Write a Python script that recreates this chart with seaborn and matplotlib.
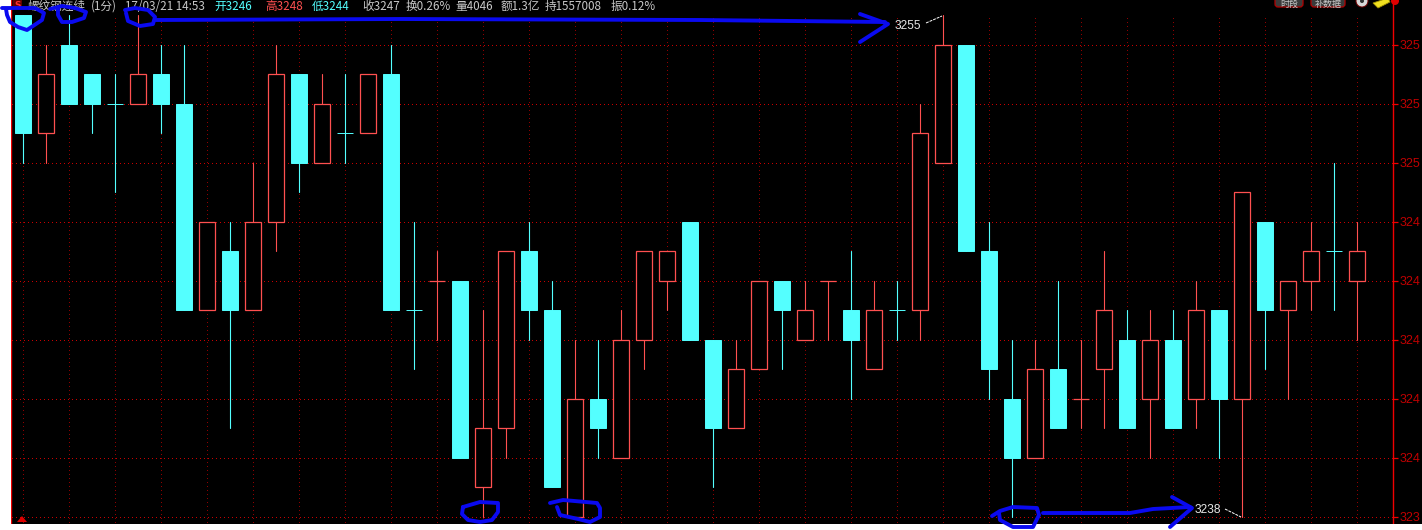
import pandas as pd
import matplotlib
matplotlib.use("Agg")
import matplotlib.pyplot as plt
from matplotlib.patches import Rectangle, FancyBboxPatch, Circle, Polygon
import seaborn as sns

opens = [3255,3251,3254,3253,3252,3252,3253,3252,3245,3247,3245,3248,3253,3250,3251,3251,3253,3245,3246,3246,
         3239,3241,3247,3245,3238,3242,3240,3244,3246,3248,3244,3241,3243,3246,3244,3246,3245,3243,3245,3245,
         3250,3254,3247,3242,3240,3243,3242,3243,3244,3242,3244,3242,3245,3242,3248,3245,3246,3247,3246]
closes = [3251,3253,3252,3252,3252,3253,3252,3245,3248,3245,3248,3253,3250,3252,3251,3253,3245,3245,3246,3240,
          3241,3247,3245,3239,3242,3241,3244,3247,3247,3244,3241,3243,3246,3245,3245,3246,3244,3245,3245,3251,
          3254,3247,3243,3240,3243,3241,3242,3245,3241,3244,3241,3245,3242,3249,3245,3246,3247,3247,3247]
highs = [3255,3254,3255,3253,3253,3255,3254,3254,3248,3248,3250,3254,3253,3253,3253,3253,3254,3248,3247,3246,
         3245,3247,3248,3246,3244,3244,3245,3247,3247,3248,3244,3244,3246,3246,3246,3246,3247,3246,3246,3252,
         3255,3254,3248,3244,3244,3246,3244,3247,3245,3245,3245,3246,3245,3249,3248,3246,3248,3250,3248]
lows = [3250,3250,3252,3251,3249,3252,3251,3245,3245,3241,3245,3247,3249,3250,3250,3251,3245,3243,3244,3240,
        3238,3240,3244,3239,3238,3240,3240,3243,3245,3244,3239,3241,3243,3243,3244,3244,3242,3243,3244,3244,
        3250,3247,3242,3238,3240,3241,3241,3241,3241,3240,3241,3241,3240,3238,3243,3242,3245,3245,3244]
rising = [0,1,0,0,0,1,0,0,1,0,1,1,0,1,0,1,0,0,1,0,
          1,1,0,0,1,0,1,1,1,0,0,1,1,0,1,1,0,1,0,1,
          1,0,0,0,1,0,1,1,0,1,0,1,0,1,0,1,1,0,1]
grid_prices = [3254,3252,3250,3248,3246,3244,3242,3240,3238]
price_labels = ["325","325","325","324","324","324","324","324","323"]
high_label, low_label = "3255", "3238"
header = [("螺纹钢连续", 28, "#c8c8c8"), ("(1分)", 91, "#c8c8c8"), ("17/03/21 14:53", 125, "#c8c8c8"),
          ("开3246", 214, "#54ffff"), ("高3248", 265, "#ff5050"), ("低3244", 312, "#54ffff"),
          ("收3247", 362, "#c8c8c8"), ("换0.26%", 406, "#c8c8c8"), ("量4046", 455, "#c8c8c8"),
          ("额1.3亿", 501, "#c8c8c8"), ("持1557008", 545, "#c8c8c8"), ("振0.12%", 611, "#c8c8c8")]

RED, CYAN, BLUE = "#ff5050", "#54ffff", "#0a0af0"
GRID_H, GRID_V, AXIS = "#c80000", "#900000", "#f00000"

sns.set_style("dark")
plt.rcParams["font.family"] = ["Noto Sans CJK SC", "DejaVu Sans"]

W, H = 1422, 530
df = pd.DataFrame(dict(i=range(len(opens)), o=opens, c=closes, hi=highs, lo=lows, up=rising))
df["bottom"] = df[["o", "c"]].min(axis=1)
df["height"] = (df["o"] - df["c"]).abs()

fig = plt.figure(figsize=(W / 100, H / 100), dpi=100, facecolor="black")
LEFT, RIGHT, BOTTOM = 11, 1392.5, 524
ax = fig.add_axes([LEFT / W, 1 - BOTTOM / H, (RIGHT - LEFT) / W, BOTTOM / H], facecolor="black")

# grid
ax.hlines(grid_prices, -1, 60, colors=GRID_H, linewidth=0.72, linestyles=(0, (1, 3)), antialiased=False, zorder=1)
ax.vlines(df["i"][::2], 3237.7, 3255.05, colors=GRID_V, linewidth=0.72, linestyles=(0, (1, 3)), antialiased=False, zorder=1)

# wicks
long_df = df.melt(id_vars=["i", "up"], value_vars=["hi", "lo"], value_name="price")
for flag, col in [(1, RED), (0, CYAN)]:
    sub = long_df[long_df["up"] == flag]
    sns.lineplot(data=sub, x="i", y="price", units="i", estimator=None, color=col,
                 linewidth=0.8, ax=ax, legend=False, zorder=2)

# bodies
dn = df[df["up"] == 0]
up = df[df["up"] == 1]
sns.barplot(data=dn, x="i", y="height", bottom=dn["bottom"].values, native_scale=True, width=0.70,
            color=CYAN, saturation=1, edgecolor=CYAN, linewidth=0.7, ax=ax, errorbar=None, zorder=3)
sns.barplot(data=up, x="i", y="height", bottom=up["bottom"].values, native_scale=True, width=0.69,
            color="black", saturation=1, edgecolor=RED, linewidth=0.9, ax=ax, errorbar=None, zorder=3)

ax.set_xlim((LEFT - 23) / 23, (RIGHT - 23) / 23)
ax.set_ylim(3254 - (BOTTOM - 44.7) / 29.5, 3254 + 44.7 / 29.5)
ax.set_xlabel(""); ax.set_ylabel("")
ax.set_xticks([])
ax.yaxis.tick_right()
ax.set_yticks(grid_prices, price_labels)
ax.tick_params(axis="y", length=3.5, width=0.9, color=AXIS, labelcolor="#c00000", labelsize=9, pad=1.5, right=True)
for t in ax.get_yticklabels():
    t.set_family(["Liberation Sans"])
ax.grid(False)
for s in ("top", "bottom"):
    ax.spines[s].set_visible(False)
for s in ("left", "right"):
    ax.spines[s].set_visible(True)
    ax.spines[s].set_color(AXIS)
    ax.spines[s].set_linewidth(1.0)

# overlay in pixel space for the screenshot furniture and hand-drawn marks
ov = fig.add_axes([0, 0, 1, 1], facecolor="none")
ov.set_xlim(0, W); ov.set_ylim(H, 0); ov.axis("off")
ov.add_patch(Rectangle((0, 0), 10.5, H, fc="white", ec="none", zorder=0))
ov.add_patch(Rectangle((0, BOTTOM), W, H - BOTTOM, fc="white", ec="none", zorder=0))

ov.add_patch(Rectangle((13, 0), 9, 9, fc="#600000", ec="none", zorder=1))
ov.text(17.5, 8, "S", color="#ff3030", fontsize=6.5, fontweight="bold", ha="center", va="baseline", family=["DejaVu Sans"])
for txt, xp, col in header:
    ov.text(xp, 10, txt, color=col, fontsize=8.4, ha="left", va="baseline")

for x0, x1, lab in [(1275, 1303, "时段"), (1311, 1345, "补数据")]:
    ov.add_patch(FancyBboxPatch((x0, -6), x1 - x0, 13, boxstyle="round,pad=0,rounding_size=3",
                                fc="#3a3a3a", ec="#b00000", lw=0.9, zorder=1))
    ov.text((x0 + x1) / 2, 6.5, lab, color="#c8c8c8", fontsize=6.5, ha="center", va="baseline", zorder=2)
ov.add_patch(Circle((1362, 1), 6, fc="#d8d8d8", ec="#700000", lw=0.7))
ov.add_patch(Circle((1362, 1), 2, fc="#303030", ec="none"))
ov.add_patch(Polygon([(1373, 3), (1388, -2), (1390, 2), (1378, 8)], fc="#f0e020", ec="#a09000", lw=0.6))
ov.add_patch(Circle((1395, 1), 4, fc="#e00000", ec="none"))
ov.add_patch(Polygon([(17, 522), (22, 516), (27, 522)], fc="#e00000", ec="none"))

# extreme labels with leader lines
ov.text(895, 29, high_label, color="#e8e8e8", fontsize=8.6, family=["Liberation Sans"], va="baseline")
ov.text(1195, 513, low_label, color="#e8e8e8", fontsize=8.6, family=["Liberation Sans"], va="baseline")
ov.plot([926, 942], [23, 16], color="white", lw=0.7, ls=(0, (3, 1)))
ov.plot([1225, 1241], [509, 517], color="white", lw=0.7, ls=(0, (3, 1)))

# hand-drawn blue ink
strokes = [
    [(2, 8), (20, 8), (35, 8), (44, 13), (42, 20), (33, 26), (27, 30), (18, 27), (10, 22), (7, 15), (6, 9)],
    [(50, 9), (62, 6), (75, 8), (86, 12), (84, 18), (72, 22), (62, 22), (58, 15), (58, 8)],
    [(125, 10), (135, 8), (148, 10), (155, 17), (153, 24), (140, 26), (128, 21), (126, 13)],
    [(155, 20), (400, 19), (700, 20), (885, 22)],
    [(860, 14), (888, 24), (860, 42)],
    [(463, 507), (480, 502), (498, 503), (498, 512), (492, 520), (480, 522), (468, 520), (462, 514), (463, 507)],
    [(550, 503), (563, 500), (597, 503), (600, 508), (600, 517), (590, 522), (578, 519), (560, 515), (557, 507)],
    [(992, 516), (1000, 511), (1013, 507), (1037, 508), (1039, 515), (1033, 527), (1013, 527), (1000, 520), (999, 513)],
    [(1043, 513), (1130, 513), (1153, 509), (1190, 507)],
    [(1172, 497), (1192, 508), (1170, 527)],
]
for pts in strokes:
    ov.plot([p[0] for p in pts], [p[1] for p in pts], color=BLUE, lw=2.8,
            solid_capstyle="round", solid_joinstyle="round", zorder=6)
ov.set_xlim(0, W); ov.set_ylim(H, 0)

fig.savefig("out.png", dpi=100, facecolor="black")
